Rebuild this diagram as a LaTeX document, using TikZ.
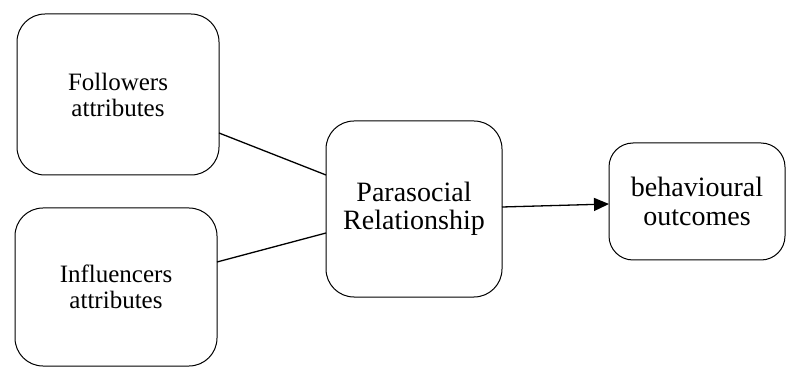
\documentclass[tikz,border=0pt]{standalone}
\usepackage{fontspec}
\setmainfont{Liberation Serif}
\usetikzlibrary{arrows.meta}
\begin{document}
\begin{tikzpicture}[x=1pt,y=1pt,
  boxstyle/.style={draw=black, line width=1pt, rounded corners=28pt,
    align=center, inner sep=0pt, outer sep=0pt},
  smalltext/.style={font=\fontsize{25}{26}\selectfont},
  bigtext/.style={font=\fontsize{28}{28.5}\selectfont},
  link/.style={draw=black, line width=1.3pt},
  arrowlink/.style={link, -{Triangle[length=15pt,width=13pt]}}]
  \useasboundingbox (0,0) rectangle (787,367);

  % input factors
  \node[boxstyle, smalltext, minimum width=202pt, minimum height=161pt]
    (fol) at (118,272.5) {Followers\\attributes};
  \node[boxstyle, smalltext, minimum width=202pt, minimum height=158pt]
    (inf) at (116,80) {Influencers\\attributes};

  % mediator
  \node[boxstyle, bigtext, minimum width=176pt, minimum height=176pt]
    (para) at (414,158) {Parasocial\\Relationship};

  % outcome
  \node[boxstyle, bigtext, rounded corners=24pt, minimum width=176pt, minimum height=117pt]
    (beh) at (697,165.5) {behavioural\\outcomes};

  % connectors
  \draw[link] ([yshift=-38.5pt]fol.east) -- ([yshift=34pt]para.west);
  \draw[link] ([yshift=25pt]inf.east) -- ([yshift=-24pt]para.west);
  \draw[arrowlink] ([yshift=2pt]para.east) -- ([yshift=-2.5pt]beh.west);
\end{tikzpicture}
\end{document}
